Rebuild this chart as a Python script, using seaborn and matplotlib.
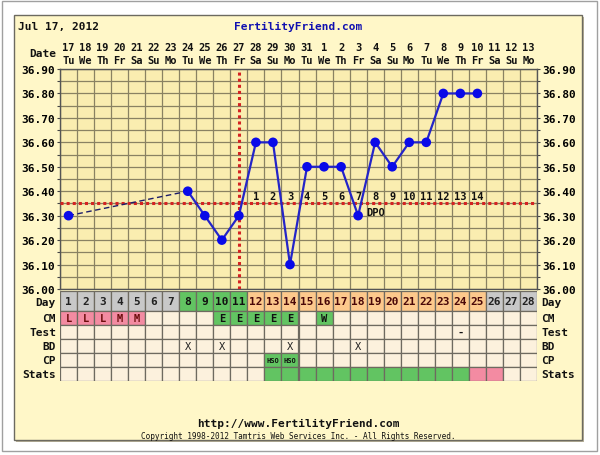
import numpy as np
import pandas as pd
import matplotlib
matplotlib.use("Agg")
import matplotlib.pyplot as plt
import matplotlib.transforms as mtransforms
from matplotlib.patches import Rectangle
import seaborn as sns

# ---------------- data ----------------
cycle_days = list(range(1, 29))
date_numbers = ["17", "18", "19", "20", "21", "22", "23", "24", "25", "26", "27", "28", "29", "30",
                "31", "1", "2", "3", "4", "5", "6", "7", "8", "9", "10", "11", "12", "13"]
weekdays = ["Tu", "We", "Th", "Fr", "Sa", "Su", "Mo", "Tu", "We", "Th", "Fr", "Sa", "Su", "Mo",
            "Tu", "We", "Th", "Fr", "Sa", "Su", "Mo", "Tu", "We", "Th", "Fr", "Sa", "Su", "Mo"]
temps = [36.30, None, None, None, None, None, None, 36.40, 36.30, 36.20, 36.30, 36.60, 36.60, 36.10,
         36.50, 36.50, 36.50, 36.30, 36.60, 36.50, 36.60, 36.60, 36.80, 36.80, 36.80, None, None, None]
coverline = 36.35
ovulation_day = 11
dpo_days = [12, 13, 14, 15, 16, 17, 18, 19, 20, 21, 22, 23, 24, 25]
dpo_numbers = ["1", "2", "3", "4", "5", "6", "7", "8", "9", "10", "11", "12", "13", "14"]
day_phase = ["none", "none", "none", "none", "none", "none", "none",
             "fertile", "fertile", "fertile", "fertile",
             "luteal", "luteal", "luteal", "luteal", "luteal", "luteal", "luteal",
             "luteal", "luteal", "luteal", "luteal", "luteal", "luteal", "luteal",
             "none", "none", "none"]
cm_values = ["L", "L", "L", "M", "M", "", "", "", "", "E", "E", "E", "E", "E",
             "", "W", "", "", "", "", "", "", "", "", "", "", "", ""]
test_values = ["", "", "", "", "", "", "", "", "", "", "", "", "", "",
               "", "", "", "", "", "", "", "", "", "-", "", "", "", ""]
bd_values = ["", "", "", "", "", "", "", "X", "", "X", "", "", "", "X",
             "", "", "", "X", "", "", "", "", "", "", "", "", "", ""]
cp_values = ["", "", "", "", "", "", "", "", "", "", "", "", "HSO", "HSO",
             "", "", "", "", "", "", "", "", "", "", "", "", "", ""]
stats_values = ["", "", "", "", "", "", "", "", "", "", "", "", "ok", "ok",
                "ok", "ok", "ok", "ok", "ok", "ok", "ok", "ok", "ok", "ok", "flag", "flag", "", ""]
y_ticks = [36.00, 36.10, 36.20, 36.30, 36.40, 36.50, 36.60, 36.70, 36.80, 36.90]

# ---------------- style ----------------
W, H = 600, 456
FONT = "DejaVu Sans Mono"
plt.rcParams["font.family"] = [FONT, "DejaVu Sans"]
plt.rcParams["font.weight"] = "bold"

PANEL = "#FFF7C8"
PLOTBG = "#FAEDB0"
GRID = "#8A8262"
CELL = "#FCF1DD"
CELL_EDGE = "#6E6A60"
GRAY = "#C8C8C8"
GREEN = "#62C462"
ORANGE = "#FDC98C"
PINK = "#F38BA2"
BLUE = "#0A0AE8"

phase_colors = {"none": GRAY, "fertile": GREEN, "luteal": ORANGE}
phase_text = {"none": "#222222", "fertile": "#111111", "luteal": "#4A0808"}
cm_colors = {"L": PINK, "M": PINK, "E": GREEN, "W": GREEN, "": CELL}
cm_text = {"L": "#6A0A0A", "M": "#6A0A0A", "E": "#111111", "W": "#111111", "": "#000"}
stats_colors = {"ok": GREEN, "flag": PINK, "": CELL}


def fx(px):
    return px / W


def fy(py):
    return 1 - py / H


fig = plt.figure(figsize=(W / 100, H / 100), dpi=100)
fig.patch.set_facecolor("white")

# outer frame and panel (behind axes)
fig.patches.append(Rectangle((fx(2), fy(452)), fx(595), 450 / H, transform=fig.transFigure,
                             fill=False, edgecolor="#A0A0A0", lw=1, zorder=-3))
fig.patches.append(Rectangle((fx(16), fy(443)), fx(568), 425 / H, transform=fig.transFigure,
                             facecolor="#B8B29A", edgecolor="none", zorder=-2))
fig.patches.append(Rectangle((fx(14), fy(441)), fx(568), 425 / H, transform=fig.transFigure,
                             facecolor=PANEL, edgecolor="#6C6A60", lw=1, zorder=-1))

# ---------------- main temperature chart ----------------
L, R, T, B = 60, 537, 70, 290
ax = fig.add_axes([fx(L), fy(B), (R - L) / W, (B - T) / H])
ax.set_facecolor(PLOTBG)

df = pd.DataFrame({"day": cycle_days, "temp": temps}).dropna()
first_block = df[df["day"] <= 8]
solid_block = df[df["day"] >= 8]

sns.lineplot(data=first_block, x="day", y="temp", ax=ax, color="#1C1C6A", lw=1.0,
             linestyle=(0, (4, 2.5)), zorder=4)
sns.lineplot(data=solid_block, x="day", y="temp", ax=ax, color="#2424C8", lw=1.6, zorder=4)
sns.scatterplot(data=df, x="day", y="temp", ax=ax, color=BLUE, s=48, edgecolor="none",
                zorder=5, legend=False)

ax.axhline(coverline, color="#D42222", lw=2.2, linestyle=(0, (1, 1)), zorder=3)
ax.axvline(ovulation_day, color="#D42222", lw=2.2, linestyle=(0, (1, 1)), zorder=3)

for d, lab in zip(dpo_days, dpo_numbers):
    ax.text(d, coverline + 0.03, lab, ha="center", va="center", fontsize=7.5,
            fontweight="bold", color="#111111", zorder=6)
ax.text(dpo_days[6] + 0.45, coverline - 0.035, "DPO", ha="left", va="center", fontsize=7.5,
        fontweight="bold", color="#111111", zorder=6)

ax.set_xlim(0.5, 28.5)
ax.set_ylim(36.0, 36.9)
ax.set_xticks(np.arange(0.5, 28.6, 1.0))
ax.set_xticklabels([])
ax.set_yticks(y_ticks)
ax.set_yticklabels([f"{v:.2f}" for v in y_ticks])
ax.set_yticks(np.arange(36.05, 36.9, 0.1), minor=True)
ax.tick_params(axis="x", length=0)
ax.tick_params(axis="y", which="both", length=2, width=0.8, color="#444444",
               labelsize=8, pad=1.5, labelright=True, right=True)
for lbl in ax.get_yticklabels():
    lbl.set_fontweight("bold")
ax.grid(True, which="both", color=GRID, lw=0.9, zorder=1)
ax.set_axisbelow(True)
ax.set_xlabel("")
ax.set_ylabel("")
for sp in ax.spines.values():
    sp.set_color("#555555")
    sp.set_linewidth(1)

# header dates
hdr = mtransforms.blended_transform_factory(ax.transData, fig.transFigure)
for d, num, wd in zip(cycle_days, date_numbers, weekdays):
    ax.text(d, fy(48), num, transform=hdr, ha="center", va="center", fontsize=7.5,
            fontweight="bold", color="#111111")
    ax.text(d, fy(61), wd, transform=hdr, ha="center", va="center", fontsize=7.5,
            fontweight="bold", color="#111111")
fig.text(fx(56), fy(54), "Date", ha="right", va="center", fontsize=8, fontweight="bold",
         color="#111111")
fig.text(fx(18), fy(27), "Jul 17, 2012", ha="left", va="center", fontsize=8,
         fontweight="bold", color="#111111")
fig.text(fx(298), fy(27), "FertilityFriend.com", ha="center", va="center", fontsize=8,
         fontweight="bold", color="#1010B0")

# ---------------- data table ----------------
TT, TB = 292, 382
tax = fig.add_axes([fx(L), fy(TB), (R - L) / W, (TB - TT) / H])
row_names = ["Day", "CM", "Test", "BD", "CP", "Stats"]
row_heights = [20, 14, 14, 14, 14, 14]
row_tops = [0, 20, 34, 48, 62, 76]
total_h = sum(row_heights)
tax.set_xlim(0.5, 28.5)
tax.set_ylim(total_h, 0)
tax.axis("off")

row_fill = [
    [phase_colors[p] for p in day_phase],
    [cm_colors[c] for c in cm_values],
    [CELL] * 28,
    [CELL] * 28,
    [GREEN if c else CELL for c in cp_values],
    [stats_colors[s] for s in stats_values],
]
for top, h, fills in zip(row_tops, row_heights, row_fill):
    tax.bar(cycle_days, [h] * 28, bottom=top, width=1.0, color=fills, edgecolor=CELL_EDGE,
            linewidth=0.9, align="center")

for d, p in zip(cycle_days, day_phase):
    tax.text(d, row_tops[0] + row_heights[0] / 2, str(d), ha="center", va="center",
             fontsize=8, fontweight="bold", color=phase_text[p])
for d, c in zip(cycle_days, cm_values):
    if c:
        tax.text(d, row_tops[1] + 7, c, ha="center", va="center", fontsize=7.5,
                 fontweight="bold", color=cm_text[c])
for d, c in zip(cycle_days, test_values):
    if c:
        tax.text(d, row_tops[2] + 7, c, ha="center", va="center", fontsize=7.5,
                 fontweight="bold", color="#111111")
for d, c in zip(cycle_days, bd_values):
    if c:
        tax.text(d, row_tops[3] + 7, c, ha="center", va="center", fontsize=7.5,
                 fontweight="normal", color="#222222")
for d, c in zip(cycle_days, cp_values):
    if c:
        tax.text(d, row_tops[4] + 7, c, ha="center", va="center", fontsize=5,
                 fontweight="bold", color="#111111")

for name, top, h in zip(row_names, row_tops, row_heights):
    yc = fy(TT + top + h / 2 + (1 if name == "Day" else 0))
    fig.text(fx(56), yc, name, ha="right", va="center", fontsize=8, fontweight="bold",
             color="#111111")
    fig.text(fx(541), yc, name, ha="left", va="center", fontsize=8, fontweight="bold",
             color="#111111")

# ---------------- footer ----------------
fig.text(fx(298), fy(424), "http://www.FertilityFriend.com", ha="center", va="center",
         fontsize=8, fontweight="bold", color="#111111")
fig.text(fx(298), fy(437), "Copyright 1998-2012 Tamtris Web Services Inc. - All Rights Reserved.",
         ha="center", va="center", fontsize=5.6, fontweight="normal", color="#111111")

fig.savefig("out.png", dpi=100, facecolor=fig.get_facecolor())
